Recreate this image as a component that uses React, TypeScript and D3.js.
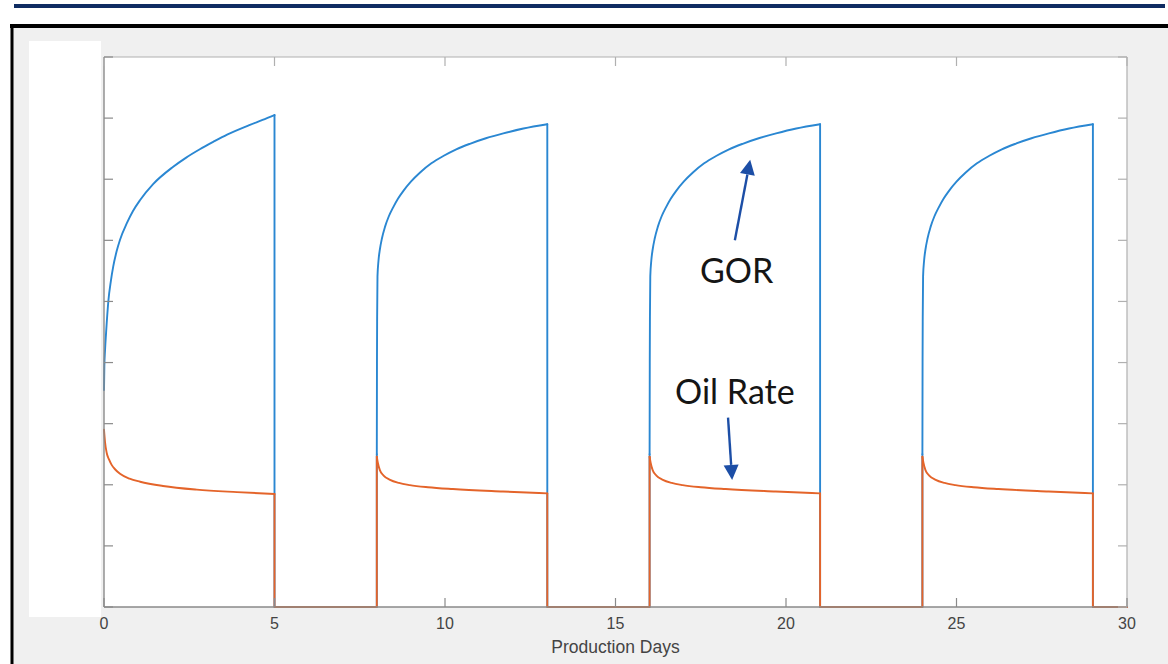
import React from "react";
import * as d3 from "d3";

type Pt = [number, number];

// GOR (blue) producing periods, [day, value]; each starts at the restart value
const gorCycle1: Pt[] = [
  [0, 3.55], [0.01, 3.93], [0.03, 4.2], [0.06, 4.48], [0.13, 5.02], [0.2, 5.33], [0.27, 5.57],
  [0.37, 5.82], [0.47, 6.01], [0.67, 6.28], [0.85, 6.48], [1.06, 6.66], [1.44, 6.92],
  [2.02, 7.2], [2.4, 7.35], [2.81, 7.49], [3.2, 7.61], [3.61, 7.73], [4.28, 7.89],
  [4.65, 7.97], [5, 8.05],
];
const gorCycle2: Pt[] = [
  [8, 2.5], [8.005, 4.0], [8.01, 4.75], [8.02, 5.41], [8.05, 5.67], [8.09, 5.85],
  [8.15, 6.03], [8.24, 6.22], [8.35, 6.39], [8.48, 6.54], [8.62, 6.68], [8.78, 6.81],
  [9.0, 6.96], [9.27, 7.11], [9.6, 7.26], [9.95, 7.38], [10.33, 7.49], [10.73, 7.58],
  [11.2, 7.67], [11.71, 7.75], [12.3, 7.83], [13, 7.9],
];
const gorCycle3: Pt[] = [
  [16, 2.5], [16.005, 4.0], [16.01, 4.75], [16.02, 5.41], [16.05, 5.67], [16.09, 5.85],
  [16.15, 6.03], [16.24, 6.22], [16.35, 6.39], [16.48, 6.54], [16.62, 6.68], [16.78, 6.81],
  [17.0, 6.96], [17.27, 7.11], [17.6, 7.26], [17.95, 7.38], [18.33, 7.49], [18.73, 7.58],
  [19.2, 7.67], [19.71, 7.75], [20.3, 7.83], [21, 7.9],
];
const gorCycle4: Pt[] = [
  [24, 2.5], [24.005, 4.0], [24.01, 4.75], [24.02, 5.41], [24.05, 5.67], [24.09, 5.85],
  [24.15, 6.03], [24.24, 6.22], [24.35, 6.39], [24.48, 6.54], [24.62, 6.68], [24.78, 6.81],
  [25.0, 6.96], [25.27, 7.11], [25.6, 7.26], [25.95, 7.38], [26.33, 7.49], [26.73, 7.58],
  [27.2, 7.67], [27.71, 7.75], [28.3, 7.83], [29, 7.9],
];

// Oil rate (orange) producing periods, [day, value]
const oilCycle1: Pt[] = [
  [0, 2.9], [0.03, 2.7], [0.08, 2.52], [0.15, 2.41], [0.22, 2.33], [0.33, 2.25], [0.47, 2.18],
  [0.75, 2.1], [1.06, 2.05], [1.73, 1.98], [2.72, 1.92], [3.9, 1.88], [5, 1.85],
];
const oilCycle2: Pt[] = [
  [8, 2.46], [8.03, 2.36], [8.09, 2.24], [8.2, 2.15], [8.39, 2.08], [8.65, 2.03],
  [8.97, 1.995], [9.5, 1.96], [10.23, 1.93], [11.7, 1.89], [13, 1.86],
];
const oilCycle3: Pt[] = [
  [16, 2.46], [16.03, 2.36], [16.09, 2.24], [16.2, 2.15], [16.39, 2.08], [16.65, 2.03],
  [16.97, 1.995], [17.5, 1.96], [18.23, 1.93], [19.7, 1.89], [21, 1.86],
];
const oilCycle4: Pt[] = [
  [24, 2.46], [24.03, 2.36], [24.09, 2.24], [24.2, 2.15], [24.39, 2.08], [24.65, 2.03],
  [24.97, 1.995], [25.5, 1.96], [26.23, 1.93], [27.7, 1.89], [29, 1.86],
];

// Shut-in periods: both rates fall to zero between start and end day
const shutInStart = [5, 13, 21, 29];
const shutInEnd = [8, 16, 24, 30];

const gorCycles = [gorCycle1, gorCycle2, gorCycle3, gorCycle4];
const oilCycles = [oilCycle1, oilCycle2, oilCycle3, oilCycle4];

const xTicks = [0, 5, 10, 15, 20, 25, 30];
const yTicks = [0, 1, 2, 3, 4, 5, 6, 7, 8, 9];
const xLabel = "Production Days";

// Annotation anchors in data units
const gorLabel = { text: "GOR", day: 18.55, value: 5.3, tail: [18.5, 6.0] as Pt, head: [18.95, 7.32] as Pt };
const oilLabel = { text: "Oil Rate", day: 18.5, value: 3.32, tail: [18.3, 3.1] as Pt, head: [18.42, 2.08] as Pt };

const W = 1168;
const H = 664;
const plot = { left: 104, right: 1127, top: 57, bottom: 607 };

export default function App() {
  const x = d3.scaleLinear().domain([0, 30]).range([plot.left, plot.right]);
  const y = d3.scaleLinear().domain([0, 9]).range([plot.bottom, plot.top]);
  const smooth = d3
    .line<Pt>()
    .x((d) => x(d[0]))
    .y((d) => y(d[1]))
    .curve(d3.curveMonotoneX);
  const straight = d3
    .line<Pt>()
    .x((d) => x(d[0]))
    .y((d) => y(d[1]));

  // producing curves are smooth; the drops, shut-ins and restarts are straight
  const seriesPaths = (cycles: Pt[][]) => {
    const parts: string[] = [];
    cycles.forEach((c, i) => {
      parts.push(smooth(c) ?? "");
      const last = c[c.length - 1];
      const link: Pt[] = [last, [shutInStart[i], 0], [shutInEnd[i], 0]];
      const next = cycles[i + 1];
      if (next) link.push(next[0]);
      parts.push(straight(link) ?? "");
    });
    return parts;
  };

  const tickLen = 9;
  const axisColor = "#8a8a8a";
  const arrowColor = "#1c4ea6";

  const arrow = (tail: Pt, head: Pt, key: string) => {
    const x1 = x(tail[0]);
    const y1 = y(tail[1]);
    const x2 = x(head[0]);
    const y2 = y(head[1]);
    const ang = Math.atan2(y2 - y1, x2 - x1);
    const hl = 15;
    const hw = 7.5;
    const bx = x2 - hl * Math.cos(ang);
    const by = y2 - hl * Math.sin(ang);
    const px = -Math.sin(ang);
    const py = Math.cos(ang);
    const pts = [
      [x2, y2],
      [bx + px * hw, by + py * hw],
      [bx - px * hw, by - py * hw],
    ];
    return (
      <g key={key}>
        <line x1={x1} y1={y1} x2={bx} y2={by} stroke={arrowColor} strokeWidth={2.4} />
        <polygon points={pts.map((p) => p.join(",")).join(" ")} fill={arrowColor} />
      </g>
    );
  };

  const gorColor = "#2a87d2";
  const oilColor = "#e4642a";

  return (
    <svg
      width={W}
      height={H}
      style={{ position: "absolute", left: 0, top: 0, display: "block" }}
      fontFamily="'Liberation Sans', Arial, sans-serif"
    >
      <rect x={0} y={0} width={W} height={H} fill="#ffffff" />
      {/* header rule */}
      <rect x={14} y={4} width={1151} height={4} fill="#0f2c62" />
      {/* figure window */}
      <rect x={12} y={26} width={W} height={H} fill="#f0f0f0" />
      <line x1={10} y1={26} x2={W} y2={26} stroke="#000" strokeWidth={4} />
      <line x1={12} y1={24} x2={12} y2={H} stroke="#000" strokeWidth={3} />
      <rect x={29} y={41} width={72} height={576} fill="#ffffff" />

      {/* axes box */}
      <rect
        x={plot.left}
        y={plot.top}
        width={plot.right - plot.left}
        height={plot.bottom - plot.top}
        fill="#ffffff"
      />

      {/* series */}
      {seriesPaths(gorCycles).map((d, i) => (
        <path key={"g" + i} d={d} fill="none" stroke={gorColor} strokeWidth={1.9} strokeLinejoin="round" strokeLinecap="round" />
      ))}
      {seriesPaths(oilCycles).map((d, i) => (
        <path key={"o" + i} d={d} fill="none" stroke={oilColor} strokeWidth={1.9} strokeLinejoin="round" strokeLinecap="round" />
      ))}

      {/* box outline */}
      <line x1={plot.left} y1={plot.top} x2={plot.right} y2={plot.top} stroke="#b0b0b0" strokeWidth={1.2} />
      <line x1={plot.right} y1={plot.top} x2={plot.right} y2={plot.bottom} stroke="#b0b0b0" strokeWidth={1.2} />
      <line x1={plot.left} y1={plot.top} x2={plot.left} y2={plot.bottom} stroke={axisColor} strokeWidth={1.4} />
      <line x1={plot.left} y1={plot.bottom} x2={plot.right} y2={plot.bottom} stroke={axisColor} strokeWidth={1.4} />

      {/* ticks */}
      {xTicks.map((t) => (
        <g key={"xt" + t}>
          <line x1={x(t)} x2={x(t)} y1={plot.bottom} y2={plot.bottom - tickLen} stroke={axisColor} strokeWidth={1.2} />
          <line x1={x(t)} x2={x(t)} y1={plot.top} y2={plot.top + tickLen} stroke="#b0b0b0" strokeWidth={1.2} />
          <text x={x(t)} y={plot.bottom + 22} textAnchor="middle" fontSize={16} fill="#444">
            {t}
          </text>
        </g>
      ))}
      {yTicks.map((t) => (
        <g key={"yt" + t}>
          <line x1={plot.left} x2={plot.left + tickLen} y1={y(t)} y2={y(t)} stroke={axisColor} strokeWidth={1.2} />
          <line x1={plot.right} x2={plot.right - tickLen} y1={y(t)} y2={y(t)} stroke="#b0b0b0" strokeWidth={1.2} />
        </g>
      ))}
      <text x={(plot.left + plot.right) / 2} y={653} textAnchor="middle" fontSize={17.5} fill="#444">
        {xLabel}
      </text>

      {/* annotations */}
      {arrow(gorLabel.tail, gorLabel.head, "ga")}
      {arrow(oilLabel.tail, oilLabel.head, "oa")}
      <text x={x(gorLabel.day)} y={y(gorLabel.value)} textAnchor="middle" fontSize={34} fill="#151515" fontFamily="Lato, 'Open Sans', sans-serif">
        {gorLabel.text}
      </text>
      <text x={x(oilLabel.day)} y={y(oilLabel.value)} textAnchor="middle" fontSize={34} fill="#151515" fontFamily="Lato, 'Open Sans', sans-serif">
        {oilLabel.text}
      </text>
    </svg>
  );
}
